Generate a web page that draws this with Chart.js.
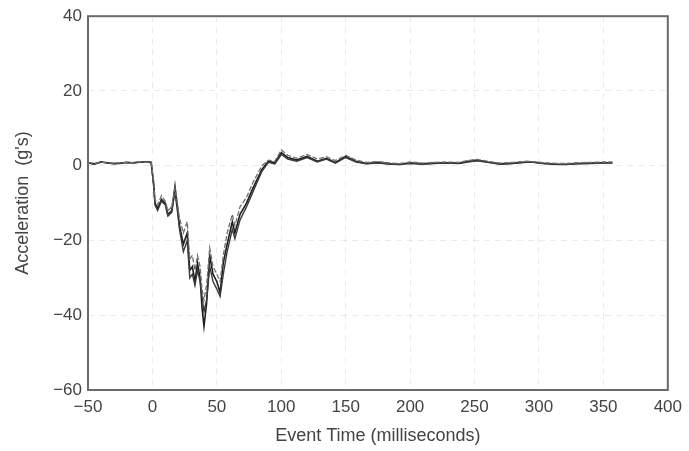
<!DOCTYPE html>
<html><head><meta charset="utf-8">
<script src="https://cdn.jsdelivr.net/npm/chart.js@4/dist/chart.umd.min.js"></script>
<style>html,body{margin:0;padding:0;background:#fff}#wrap{width:689px;height:451px}</style>
</head><body><div id="wrap"><canvas id="c" width="689" height="451"></canvas></div>
<script>
const timeMs = [-50,-45,-40,-35,-30,-25,-20,-15,-10,-5,-1,1,2,4,7,10,12,15,17.5,19,21,24,27,29,31,33,35,37,38.5,40,42,44.5,47,50,52.5,55,58,62,64,68,73,78,85,90,95,100,105,112,120,128,135,142,150,158,166,175,185,192,200,210,218,228,238,245,252,260,270,280,290,295,305,315,321,330,340,350,357];
const seriesA = [0.8,0.5,1.0,0.8,0.6,0.7,0.9,0.8,1.0,1.0,0.9,-5,-10,-11.5,-9,-10,-13,-12,-5.5,-10,-16,-21,-18,-28,-27,-31,-26,-30,-38,-43,-37,-24,-29,-31,-34,-26,-21,-15,-18,-13,-10,-6,-1,1.2,0.8,3.5,2.2,1.5,2.5,1.2,2,0.9,2.5,1.2,0.6,0.9,0.5,0.4,0.8,0.5,0.7,0.8,0.7,1.2,1.5,1.0,0.5,0.7,1.0,1.0,0.6,0.4,0.4,0.6,0.7,0.8,0.8];
const seriesB = [0.9,0.6,0.9,0.9,0.7,0.8,0.8,0.9,1.1,0.9,0.8,-4,-9,-10.5,-8,-9.5,-12,-11,-6,-9,-14,-18,-15,-25,-24,-28,-24,-27,-33,-36,-32,-22,-27,-29,-31,-24,-18,-13,-16,-11,-8.5,-4.5,0,1.5,1.2,4.2,2.8,2,3,1.8,2.4,1.4,2.8,1.5,0.9,1.1,0.7,0.6,1.0,0.7,0.9,1.0,0.9,1.4,1.7,1.2,0.7,0.9,1.2,1.1,0.8,0.6,0.6,0.8,0.9,1.0,1.0];
const seriesC = [0.7,0.4,1.0,0.7,0.5,0.6,0.9,0.7,0.9,1.0,0.9,-5.5,-10.5,-12,-9.5,-10.5,-13.5,-12.5,-7,-11,-17,-23,-20,-30,-29,-32,-28,-31,-35,-39,-36,-27,-31,-33,-35,-29,-23,-17,-19.5,-14.5,-11,-7,-1.5,0.9,0.5,3,1.8,1.2,2.2,1,1.8,0.7,2.2,1,0.5,0.7,0.4,0.3,0.6,0.4,0.6,0.7,0.6,1.0,1.3,0.9,0.4,0.6,0.9,0.9,0.5,0.3,0.3,0.5,0.6,0.7,0.7];
const xTicks = [-50,0,50,100,150,200,250,300,350,400];
const yTicks = [-60,-40,-20,0,20,40];

const pts = arr => arr.map((v,i)=>({x:timeMs[i], y:v}));
const fmt = v => String(v).replace('-', '\u2212');
const boxPlugin = {id:'box', afterDraw(ch){const a=ch.chartArea,c=ch.ctx;c.save();c.strokeStyle='#6a6a6a';c.lineWidth=2;c.strokeRect(a.left,a.top,a.right-a.left,a.bottom-a.top);c.restore();}};
const FONT = 'Liberation Sans, Arial, sans-serif';
const TICKFONT = '"Liberation Sans Narrow", "Liberation Sans", Arial, sans-serif';
new Chart(document.getElementById('c'), {
  type:'line',
  data:{datasets:[
    {data:pts(seriesB), borderColor:'#707070', borderWidth:1.3, borderDash:[5,2], pointRadius:0, tension:0},
    {data:pts(seriesC), borderColor:'#3a3a3a', borderWidth:1.4, pointRadius:0, tension:0},
    {data:pts(seriesA), borderColor:'#1e1e1e', borderWidth:1.6, pointRadius:0, tension:0}
  ]},
  options:{
    responsive:false, animation:false, devicePixelRatio:1,
    layout:{padding:{left:0,top:14,right:21,bottom:4}},
    plugins:{legend:{display:false}, tooltip:{enabled:false}},
    scales:{
      x:{type:'linear', min:-50, max:400,
        afterBuildTicks: s => { s.ticks = xTicks.map(v=>({value:v})); },
        afterFit: s => { s.height = 451 - 390 - 4; },
        grid:{color:'rgba(0,0,0,0.08)', drawTicks:false},
        border:{display:false, dash:[6,5]},
        ticks:{padding:7, color:'#444', font:{family:TICKFONT, size:17}, callback:v=>fmt(v), maxRotation:0},
        title:{display:true, text:'Event Time (milliseconds)', color:'#444', font:{family:FONT, size:18}, padding:{top:4,bottom:0}}
      },
      y:{type:'linear', min:-60, max:40,
        afterBuildTicks: s => { s.ticks = yTicks.map(v=>({value:v})); },
        afterFit: s => { s.width = 88; },
        grid:{color:'rgba(0,0,0,0.08)', drawTicks:false},
        border:{display:false, dash:[6,5]},
        ticks:{padding:6, color:'#444', font:{family:TICKFONT, size:17}, callback:v=>fmt(v)},
        title:{display:true, text:"Acceleration  (g's)", color:'#444', font:{family:FONT, size:18}, padding:{top:12,bottom:0}}
      }
    }
  },
  plugins:[boxPlugin]
});
</script></body></html>
